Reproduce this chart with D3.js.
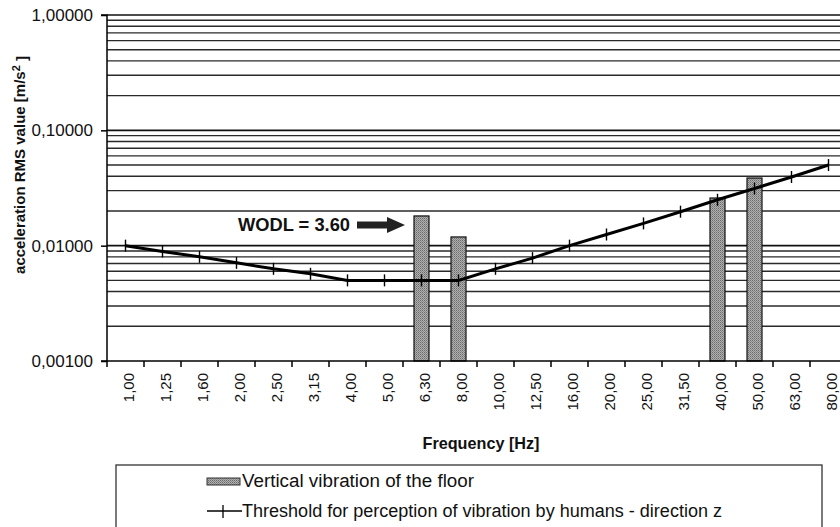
<!DOCTYPE html>
<html lang="en">

<head>
    <meta charset="UTF-8">
    <title>Floor vibration vs perception threshold</title>
    <script src="https://cdn.jsdelivr.net/npm/d3@7"></script>

    <style>
        body { margin: 0; background: #fff; }
        svg { display: block; font-family: "Liberation Sans", Arial, sans-serif; }
        .grid line { stroke: #2a2a2a; stroke-width: 1.4px; }
        .grid line.major { stroke: #111; stroke-width: 1.7px; }
        .axis path, .axis line { stroke: #000; stroke-width: 1.5px; }
        .axis text { fill: #111; }
    </style>
</head>

<body>

    <svg width="840" height="527"></svg>

    <script>

        // frequency bands (1/3 octave) as printed on the axis
        var categories = ["1,00", "1,25", "1,60", "2,00", "2,50", "3,15", "4,00", "5,00", "6,30", "8,00",
            "10,00", "12,50", "16,00", "20,00", "25,00", "31,50", "40,00", "50,00", "63,00", "80,00"];

        // measured vertical vibration of the floor [m/s2]
        var barCategories = ["6,30", "8,00", "40,00", "50,00"];
        var barValues = [0.0181, 0.0119, 0.0259, 0.0386];

        // threshold of perception, direction z [m/s2]
        var threshold = [0.0100, 0.0089, 0.0080, 0.0071, 0.0063, 0.0057, 0.0050, 0.0050, 0.0050, 0.0050,
            0.0063, 0.0078, 0.0100, 0.0125, 0.0156, 0.0197, 0.0250, 0.0313, 0.0394, 0.0500];

        var yTicks = [1, 0.1, 0.01, 0.001];

        var svg = d3.select("svg");

        // plot frame (window.top is reserved, so prefixed names)
        var plotLeft = 107, plotTop = 15, plotBottom = 361, bandW = 37;

        var x = d3.scaleBand()
            .domain(categories)
            .range([plotLeft, plotLeft + bandW * categories.length])
            .paddingInner(0).paddingOuter(0);

        var y = d3.scaleLog()
            .domain([0.001, 1])
            .range([plotBottom, plotTop]);

        var plotRight = x.range()[1];

        // horizontal grid: every 1..9 step of each decade
        var gridVals = [];
        [0.001, 0.01, 0.1].forEach(function (dec) {
            for (var k = 1; k <= 9; k++) gridVals.push(dec * k);
        });
        gridVals.push(1);

        svg.append("g")
            .attr("class", "grid")
            .selectAll("line")
            .data(gridVals.filter(function (v) { return v > 0.001; }))
            .enter().append("line")
            .attr("class", function (d) { return yTicks.indexOf(d) >= 0 ? "major" : null; })
            .attr("x1", plotLeft).attr("x2", plotRight)
            .attr("y1", function (d) { return y(d); })
            .attr("y2", function (d) { return y(d); });

        // bar texture
        var pat = svg.append("defs").append("pattern")
            .attr("id", "dots")
            .attr("width", 2).attr("height", 2)
            .attr("patternUnits", "userSpaceOnUse");
        pat.append("rect").attr("width", 2).attr("height", 2).attr("fill", "#b0b0b0");
        pat.append("rect").attr("width", 1).attr("height", 1).attr("fill", "#6a6a6a");
        pat.append("rect").attr("x", 1).attr("y", 1).attr("width", 1).attr("height", 1).attr("fill", "#888");

        var barW = 15;

        svg.append("g")
            .attr("class", "bars")
            .selectAll("rect")
            .data(barCategories)
            .enter().append("rect")
            .attr("x", function (d) { return x(d) + x.bandwidth() / 2 - barW / 2; })
            .attr("y", function (d, i) { return y(barValues[i]); })
            .attr("width", barW)
            .attr("height", function (d, i) { return plotBottom - y(barValues[i]); })
            .attr("fill", "url(#dots)")
            .attr("stroke", "#111")
            .attr("stroke-width", 1.2);

        // threshold line
        var line = d3.line()
            .x(function (d, i) { return x(categories[i]) + x.bandwidth() / 2; })
            .y(function (d) { return y(d); });

        svg.append("path")
            .datum(threshold)
            .attr("fill", "none")
            .attr("stroke", "#000")
            .attr("stroke-width", 3)
            .attr("d", line);

        svg.append("g")
            .selectAll("line")
            .data(threshold)
            .enter().append("line")
            .attr("x1", function (d, i) { return x(categories[i]) + x.bandwidth() / 2; })
            .attr("x2", function (d, i) { return x(categories[i]) + x.bandwidth() / 2; })
            .attr("y1", function (d) { return y(d) - 6; })
            .attr("y2", function (d) { return y(d) + 6; })
            .attr("stroke", "#000")
            .attr("stroke-width", 1.4);

        // y axis
        var yAxis = svg.append("g")
            .attr("class", "axis")
            .attr("transform", "translate(" + plotLeft + ",0)")
            .call(d3.axisLeft(y)
                .tickValues(yTicks)
                .tickSize(6)
                .tickPadding(8)
                .tickFormat(function (d) { return d3.format(".5f")(d).replace(".", ","); }));
        yAxis.select(".domain").attr("d", "M-6," + plotTop + "H0V" + plotBottom + "H-6");
        yAxis.selectAll("text").style("font-size", "17px");

        // x axis: labels centred in bands, ticks on band boundaries
        var xAxis = svg.append("g")
            .attr("class", "axis")
            .attr("transform", "translate(0," + plotBottom + ")")
            .call(d3.axisBottom(x).tickSize(0).tickPadding(0));
        xAxis.select(".domain").attr("d", "M" + plotLeft + ",0H" + plotRight);
        xAxis.selectAll(".tick text")
            .style("font-size", "15px")
            .attr("text-anchor", "end")
            .attr("transform", "rotate(-90)")
            .attr("x", -12)
            .attr("y", 3)
            .attr("dy", ".35em");

        xAxis.selectAll(".bound")
            .data(d3.range(categories.length + 1))
            .enter().append("line")
            .attr("class", "bound")
            .attr("x1", function (d) { return plotLeft + d * x.step(); })
            .attr("x2", function (d) { return plotLeft + d * x.step(); })
            .attr("y1", 0).attr("y2", 6);

        // axis titles
        var yTitle = svg.append("text")
            .attr("transform", "translate(20,165) rotate(-90)")
            .attr("text-anchor", "middle")
            .attr("dy", ".35em")
            .style("font-size", "15px")
            .style("font-weight", "bold")
            .attr("fill", "#111");
        yTitle.append("tspan").text("acceleration RMS value [m/s");
        yTitle.append("tspan").attr("dy", "-0.45em").style("font-size", "11px").text("2");
        yTitle.append("tspan").attr("dy", "0.45em").text(" ]");

        svg.append("text")
            .attr("x", 481).attr("y", 443)
            .attr("dy", ".35em")
            .attr("text-anchor", "middle")
            .attr("textLength", 117)
            .attr("lengthAdjust", "spacingAndGlyphs")
            .style("font-size", "17px")
            .style("font-weight", "bold")
            .attr("fill", "#111")
            .text("Frequency [Hz]");

        // annotation
        svg.append("text")
            .attr("x", 238).attr("y", 225)
            .attr("dy", ".35em")
            .attr("textLength", 112)
            .attr("lengthAdjust", "spacingAndGlyphs")
            .style("font-size", "18px")
            .style("font-weight", "bold")
            .attr("fill", "#111")
            .text("WODL = 3.60");

        svg.append("path")
            .attr("d", "M357,221.5H387V217L405,225L387,233V228.5H357Z")
            .attr("fill", "#222");

        // legend
        var legend = svg.append("g").attr("class", "legend");
        legend.append("rect")
            .attr("x", 116).attr("y", 465)
            .attr("width", 706).attr("height", 70)
            .attr("fill", "#fff")
            .attr("stroke", "#333")
            .attr("stroke-width", 1.3);

        legend.append("rect")
            .attr("x", 207).attr("y", 478)
            .attr("width", 33).attr("height", 7)
            .attr("fill", "url(#dots)")
            .attr("stroke", "#333");

        legend.append("line")
            .attr("x1", 207).attr("x2", 242)
            .attr("y1", 511).attr("y2", 511)
            .attr("stroke", "#000").attr("stroke-width", 1.6);
        legend.append("line")
            .attr("x1", 223).attr("x2", 223)
            .attr("y1", 505).attr("y2", 518)
            .attr("stroke", "#000").attr("stroke-width", 1.3);

        legend.append("text")
            .attr("x", 242).attr("y", 481)
            .attr("dy", ".35em")
            .attr("textLength", 232)
            .attr("lengthAdjust", "spacingAndGlyphs")
            .style("font-size", "18px")
            .attr("fill", "#111")
            .text("Vertical vibration of the floor");

        legend.append("text")
            .attr("x", 242).attr("y", 511)
            .attr("dy", ".35em")
            .attr("textLength", 480)
            .attr("lengthAdjust", "spacingAndGlyphs")
            .style("font-size", "18px")
            .attr("fill", "#111")
            .text("Threshold for perception of vibration by humans - direction z");

    </script>

</body>

</html>
